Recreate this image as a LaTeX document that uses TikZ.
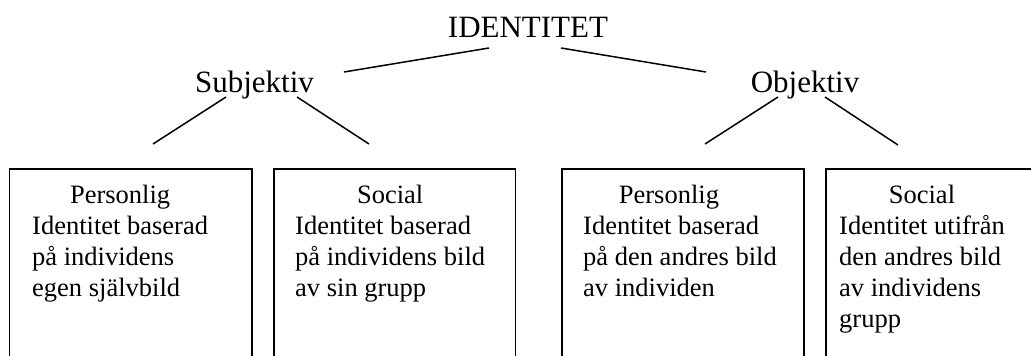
\documentclass[tikz,border=0pt]{standalone}
\usepackage{fontspec}
\setmainfont{Liberation Serif}
\begin{document}
\begin{tikzpicture}[x=1pt,y=-1pt,
  heading/.style={inner sep=0pt,anchor=base,font=\fontsize{31}{36}\selectfont},
  boxtext/.style={inner sep=0pt,anchor=base west,font=\fontsize{26.5}{31}\selectfont},
  frame/.style={draw,line width=1.5pt,rectangle,anchor=north west,inner sep=0pt},
  link/.style={line width=1.5pt}]
\useasboundingbox (0,0) rectangle (1031,356);
% headings
\node[heading] (id) at (528,37.5) {IDENTITET};
\node[heading] (subj) at (254.5,92) {Subjektiv};
\node[heading] (obj) at (805,92) {Objektiv};
% connector end points
\coordinate (idL) at (489,48);
\coordinate (idR) at (561,48);
\coordinate (subjR) at (344,72);
\coordinate (objL) at (706,72);
\coordinate (subjA) at (226,97);
\coordinate (subjB) at (297,97);
\coordinate (objA) at (778,97);
\coordinate (objB) at (825,97);
\coordinate (b1top) at (153,144);
\coordinate (b2top) at (369,144);
\coordinate (b3top) at (705,144);
\coordinate (b4top) at (898,145);
% connectors
\draw[link] (subjR) -- (idL);
\draw[link] (idR) -- (objL);
\draw[link] (subjA) -- (b1top);
\draw[link] (subjB) -- (b2top);
\draw[link] (objA) -- (b3top);
\draw[link] (objB) -- (b4top);
% boxes (bottoms and the last right side lie outside the picture)
\node[frame,minimum width=242.5pt,minimum height=240pt] (box1) at (8.5,168) {};
\node[frame,minimum width=241.5pt,minimum height=240pt] (box2) at (273,168) {};
\node[frame,minimum width=242pt,minimum height=240pt] (box3) at (561,168) {};
\node[frame,minimum width=260pt,minimum height=240pt] (box4) at (825,168) {};
% box texts
\node[boxtext] (t1) at (32,203.5) {\begin{tabular}[t]{@{}l@{}}\multicolumn{1}{@{}c@{}}{Personlig}\\Identitet baserad\\på individens\\egen självbild\end{tabular}};
\node[boxtext] (t2) at (295,203.5) {\begin{tabular}[t]{@{}l@{}}\multicolumn{1}{@{}c@{}}{Social}\\Identitet baserad\\på individens bild\\av sin grupp\end{tabular}};
\node[boxtext] (t3) at (583,203.5) {\begin{tabular}[t]{@{}l@{}}\multicolumn{1}{@{}c@{}}{Personlig\kern22pt}\\Identitet baserad\\på den andres bild\\av individen\end{tabular}};
\node[boxtext] (t4) at (839,203.5) {\begin{tabular}[t]{@{}l@{}}\multicolumn{1}{@{}c@{}}{Social}\\Identitet utifrån\\den andres bild\\av individens\\grupp\end{tabular}};
\end{tikzpicture}
\end{document}
